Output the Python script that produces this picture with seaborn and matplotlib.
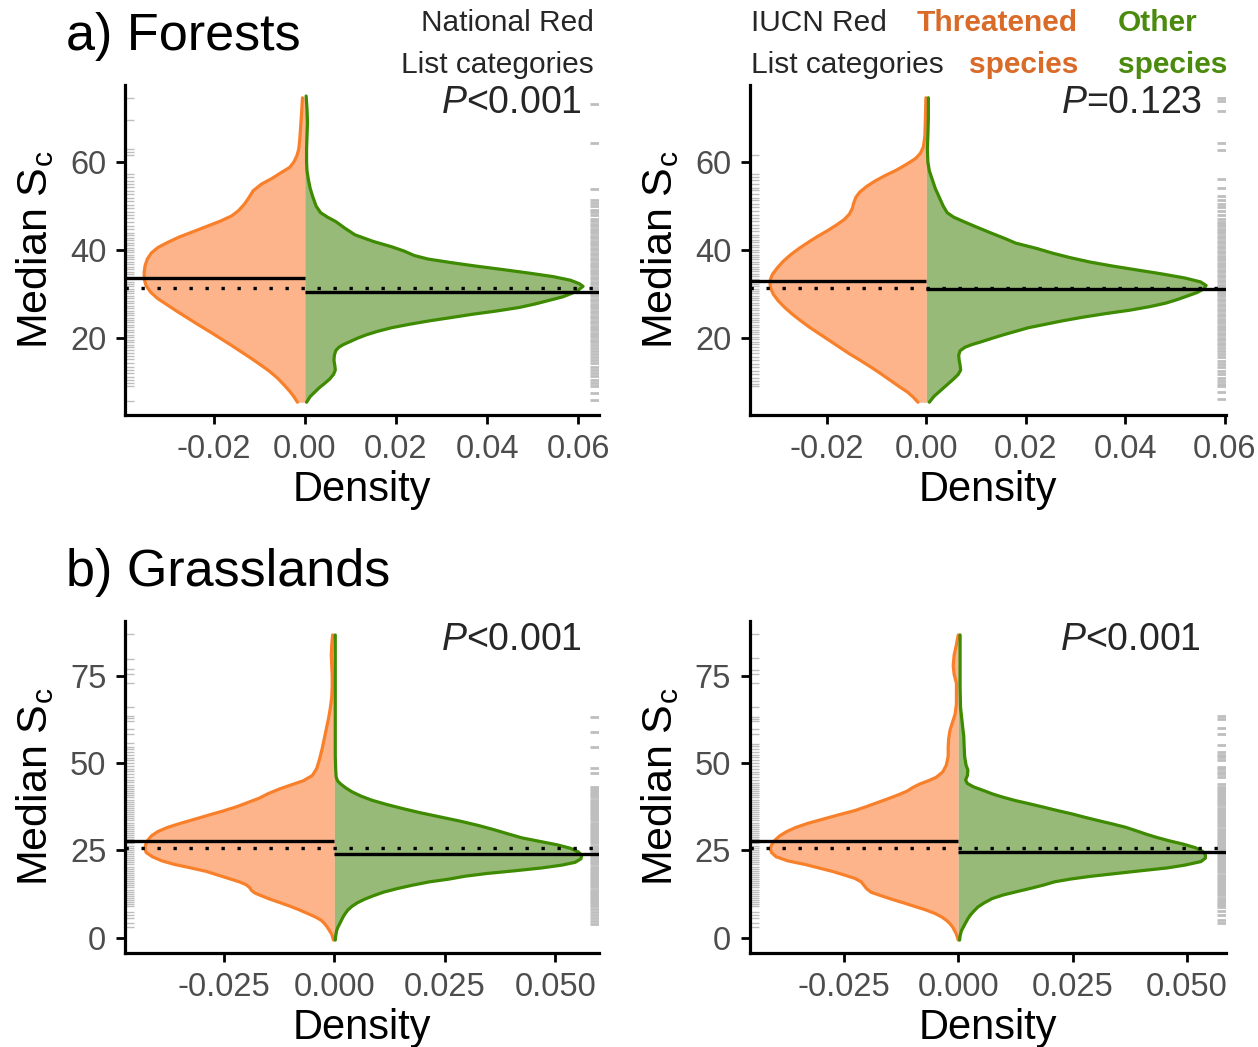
import matplotlib
matplotlib.use("Agg")
import matplotlib.pyplot as plt
import seaborn as sns

# ---- data ----
# density outlines: Sc value (y) and density (x); threatened side stored positive, drawn mirrored

# a) forests, national red list
a1_y_thr = [74.6, 71.0, 68.0, 65.0, 63.0, 61.5, 60.0, 58.8, 57.6, 56.4, 55.0, 53.5, 52.0, 50.5, 49.0,
            47.8, 46.6, 45.4, 44.2, 43.0, 41.8, 40.6, 39.4, 38.0, 36.5, 35.0, 33.5, 32.0, 30.5, 29.0,
            27.5, 26.0, 24.5, 23.0, 21.5, 20.0, 18.5, 17.0, 15.5, 14.0, 12.5, 11.0, 9.5, 8.0, 6.8, 5.5]
a1_d_thr = [0.0005, 0.0007, 0.0009, 0.0011, 0.0013, 0.0017, 0.0024, 0.0033, 0.0052, 0.0070, 0.0095,
            0.0113, 0.0122, 0.0132, 0.0145, 0.0160, 0.0185, 0.0215, 0.0245, 0.0275, 0.0300, 0.0322,
            0.0336, 0.0345, 0.0350, 0.0352, 0.0352, 0.0348, 0.0338, 0.0322, 0.0300, 0.0278, 0.0255,
            0.0232, 0.0208, 0.0185, 0.0162, 0.0140, 0.0118, 0.0097, 0.0077, 0.0060, 0.0046, 0.0033,
            0.0024, 0.0016]
a1_y_oth = [75.0, 72.0, 69.0, 66.0, 63.0, 60.0, 58.0, 56.0, 54.0, 52.0, 50.0, 48.5, 47.5, 46.5, 45.0,
            43.5, 42.0, 40.8, 39.8, 38.8, 38.0, 37.2, 36.4, 35.6, 34.8, 34.0, 33.2, 32.4, 31.8, 31.0,
            30.2, 29.4, 28.6, 27.8, 27.0, 26.2, 25.5, 24.7, 24.0, 23.2, 22.4, 21.6, 20.8, 20.0, 19.2,
            18.6, 18.0, 17.2, 16.2, 15.0, 13.8, 12.8, 11.8, 10.8, 9.8, 8.8, 7.8, 6.8, 5.5]
a1_d_oth = [0.0003, 0.0005, 0.0006, 0.0005, 0.0004, 0.0004, 0.0005, 0.0008, 0.0012, 0.0018, 0.0025,
            0.0035, 0.0050, 0.0068, 0.0088, 0.0110, 0.0150, 0.0190, 0.0218, 0.0240, 0.0270, 0.0320,
            0.0375, 0.0435, 0.0492, 0.0545, 0.0582, 0.0602, 0.0610, 0.0600, 0.0585, 0.0565, 0.0535,
            0.0505, 0.0470, 0.0420, 0.0370, 0.0320, 0.0275, 0.0230, 0.0190, 0.0160, 0.0135, 0.0115,
            0.0098, 0.0085, 0.0075, 0.0068, 0.0065, 0.0064, 0.0066, 0.0067, 0.0063, 0.0055, 0.0044,
            0.0032, 0.0022, 0.0012, 0.0004]

# a) forests, IUCN red list
a2_y_thr = [74.6, 70.0, 66.0, 63.5, 62.0, 60.8, 59.5, 58.2, 57.0, 55.8, 54.5, 53.2, 52.0, 50.8, 49.5,
            48.2, 47.0, 45.8, 44.5, 43.2, 42.0, 40.5, 39.0, 37.5, 36.0, 34.5, 33.0, 31.5, 30.0, 28.5,
            27.0, 25.5, 24.0, 22.5, 21.0, 19.5, 18.0, 16.5, 15.0, 13.5, 12.0, 10.5, 9.0, 7.8, 6.6, 5.5]
a2_d_thr = [0.0001, 0.0002, 0.0003, 0.0006, 0.0012, 0.0022, 0.0040, 0.0060, 0.0082, 0.0102, 0.0120,
            0.0134, 0.0142, 0.0146, 0.0149, 0.0155, 0.0165, 0.0180, 0.0198, 0.0218, 0.0235, 0.0255,
            0.0273, 0.0288, 0.0300, 0.0310, 0.0315, 0.0314, 0.0308, 0.0298, 0.0285, 0.0270, 0.0253,
            0.0235, 0.0215, 0.0195, 0.0175, 0.0155, 0.0133, 0.0112, 0.0092, 0.0073, 0.0054, 0.0038,
            0.0026, 0.0017]
a2_y_oth = [74.6, 70.0, 66.0, 63.0, 60.0, 58.0, 56.0, 54.0, 52.0, 50.0, 48.5, 47.5, 46.5, 45.3, 44.0,
            42.8, 41.6, 40.4, 39.3, 38.3, 37.3, 36.4, 35.5, 34.6, 33.7, 32.8, 32.0, 31.2, 30.4, 29.6,
            28.8, 28.0, 27.2, 26.4, 25.6, 24.8, 24.0, 23.2, 22.4, 21.6, 20.8, 20.0, 19.2, 18.6, 18.0,
            17.2, 16.2, 15.0, 13.8, 12.8, 11.8, 10.8, 9.8, 8.8, 7.8, 6.8, 5.5]
a2_d_oth = [0.0004, 0.0004, 0.0003, 0.0002, 0.0003, 0.0006, 0.0012, 0.0018, 0.0026, 0.0034, 0.0042,
            0.0055, 0.0075, 0.0100, 0.0128, 0.0155, 0.0180, 0.0222, 0.0255, 0.0290, 0.0330, 0.0375,
            0.0425, 0.0475, 0.0520, 0.0552, 0.0563, 0.0558, 0.0545, 0.0525, 0.0505, 0.0482, 0.0450,
            0.0410, 0.0360, 0.0315, 0.0275, 0.0240, 0.0205, 0.0180, 0.0155, 0.0132, 0.0110, 0.0092,
            0.0078, 0.0068, 0.0065, 0.0066, 0.0068, 0.0069, 0.0064, 0.0055, 0.0045, 0.0035, 0.0025,
            0.0015, 0.0006]

# b) grasslands, national red list
b1_y_thr = [86.8, 84.0, 81.0, 78.0, 75.0, 72.0, 69.0, 66.0, 63.0, 60.0, 57.0, 54.0, 51.0, 48.5, 46.5,
            45.0, 43.8, 42.6, 41.3, 40.0, 38.8, 37.6, 36.4, 35.2, 34.0, 32.8, 31.6, 30.4, 29.2, 28.0,
            26.8, 25.6, 24.4, 23.2, 22.0, 21.0, 20.0, 19.0, 18.0, 17.0, 16.0, 15.2, 14.4, 13.6, 12.8,
            12.0, 11.0, 10.0, 9.0, 8.0, 7.0, 6.0, 5.0, 4.0, 3.0, 2.0, 1.0, -0.7]
b1_d_thr = [0.0004, 0.0006, 0.0007, 0.0006, 0.0005, 0.0005, 0.0006, 0.0009, 0.0013, 0.0018, 0.0023,
            0.0028, 0.0034, 0.0040, 0.0050, 0.0070, 0.0098, 0.0125, 0.0150, 0.0170, 0.0195, 0.0220,
            0.0250, 0.0283, 0.0315, 0.0348, 0.0378, 0.0400, 0.0414, 0.0422, 0.0427, 0.0429, 0.0426,
            0.0412, 0.0390, 0.0362, 0.0325, 0.0290, 0.0265, 0.0240, 0.0215, 0.0200, 0.0192, 0.0188,
            0.0180, 0.0165, 0.0145, 0.0122, 0.0100, 0.0080, 0.0062, 0.0044, 0.0030, 0.0022, 0.0016,
            0.0011, 0.0006, 0.0002]
b1_y_oth = [86.8, 80.0, 70.0, 60.0, 52.0, 48.0, 46.1, 45.0, 44.2, 43.0, 41.8, 40.6, 39.4, 38.2, 37.0,
            35.8, 34.6, 33.4, 32.2, 31.0, 29.8, 28.6, 27.6, 26.6, 25.6, 24.6, 23.6, 22.6, 21.6, 20.8,
            20.0, 19.2, 18.4, 17.6, 16.8, 16.0, 15.0, 14.0, 13.0, 12.0, 11.0, 10.0, 9.0, 8.0, 7.0,
            6.0, 5.0, 4.0, 3.0, 2.0, 0.5, -0.7]
b1_d_oth = [0.0002, 0.0002, 0.0002, 0.0002, 0.0002, 0.0003, 0.0004, 0.0007, 0.0013, 0.0025, 0.0040,
            0.0060, 0.0085, 0.0118, 0.0155, 0.0195, 0.0240, 0.0285, 0.0325, 0.0360, 0.0392, 0.0425,
            0.0465, 0.0505, 0.0535, 0.0552, 0.0560, 0.0558, 0.0545, 0.0515, 0.0470, 0.0410, 0.0345,
            0.0295, 0.0260, 0.0215, 0.0175, 0.0140, 0.0110, 0.0088, 0.0068, 0.0052, 0.0040, 0.0031,
            0.0025, 0.0020, 0.0016, 0.0012, 0.0008, 0.0005, 0.0003, 0.0002]

# b) grasslands, IUCN red list
b2_y_thr = [86.8, 84.0, 81.0, 78.0, 75.5, 73.0, 70.0, 67.0, 64.0, 61.6, 59.5, 57.0, 54.5, 52.0, 49.5,
            47.5, 46.0, 45.0, 44.0, 43.0, 42.0, 41.0, 40.0, 38.8, 37.6, 36.4, 35.2, 34.0, 32.8, 31.6,
            30.4, 29.2, 28.0, 26.8, 25.6, 24.4, 23.2, 22.0, 21.0, 20.0, 19.0, 18.0, 17.0, 16.0, 15.0,
            14.0, 13.0, 12.0, 11.0, 10.0, 9.0, 8.0, 7.0, 6.0, 5.0, 4.0, 3.0, 2.0, 1.0, -0.7]
b2_d_thr = [0.0000, 0.0004, 0.0009, 0.0011, 0.0009, 0.0004, 0.0004, 0.0004, 0.0007, 0.0013, 0.0018,
            0.0021, 0.0022, 0.0022, 0.0026, 0.0034, 0.0048, 0.0065, 0.0085, 0.0100, 0.0112, 0.0130,
            0.0150, 0.0175, 0.0200, 0.0227, 0.0262, 0.0295, 0.0328, 0.0355, 0.0375, 0.0390, 0.0400,
            0.0407, 0.0411, 0.0408, 0.0398, 0.0372, 0.0335, 0.0305, 0.0275, 0.0250, 0.0226, 0.0212,
            0.0206, 0.0200, 0.0190, 0.0168, 0.0145, 0.0120, 0.0096, 0.0072, 0.0052, 0.0037, 0.0026,
            0.0018, 0.0012, 0.0008, 0.0004, 0.0000]
b2_y_oth = [86.8, 80.0, 72.0, 66.0, 63.6, 60.0, 57.8, 54.5, 51.9, 49.5, 48.1, 46.5, 45.2, 44.2, 43.2,
            42.2, 41.2, 40.3, 39.3, 38.4, 37.4, 36.4, 35.5, 34.5, 33.5, 32.6, 31.6, 30.6, 29.7, 28.8,
            27.8, 26.8, 25.8, 24.8, 23.8, 22.8, 21.8, 20.8, 20.0, 19.2, 18.4, 17.6, 16.8, 16.0, 15.1,
            14.2, 13.2, 12.2, 11.2, 10.0, 8.8, 7.6, 6.4, 5.4, 4.0, 3.0, 2.0, 0.5, -0.7]
b2_d_oth = [0.0004, 0.0004, 0.0004, 0.0005, 0.0007, 0.0010, 0.0012, 0.0013, 0.0014, 0.0017, 0.0021,
            0.0020, 0.0016, 0.0020, 0.0034, 0.0055, 0.0075, 0.0097, 0.0125, 0.0155, 0.0187, 0.0218,
            0.0248, 0.0277, 0.0308, 0.0337, 0.0367, 0.0390, 0.0410, 0.0432, 0.0460, 0.0492, 0.0518,
            0.0533, 0.0540, 0.0540, 0.0530, 0.0495, 0.0457, 0.0400, 0.0345, 0.0290, 0.0245, 0.0210,
            0.0187, 0.0160, 0.0128, 0.0097, 0.0074, 0.0057, 0.0043, 0.0034, 0.0026, 0.0021, 0.0015,
            0.0011, 0.0007, 0.0004, 0.0003]

# medians: threatened, other, all species
a1_med = [33.7, 30.5, 31.4]
a2_med = [33.1, 31.1, 31.4]
b1_med = [27.7, 24.0, 25.6]
b2_med = [27.7, 24.5, 25.6]

# rug values (left = threatened, right = other)
a1_rug_thr = [74.6, 69.5, 62.9, 62.3, 61.7, 57.4, 56.7, 55.8, 55.1, 54.3, 53.4, 52.8, 51.9, 51.2, 50.3,
              49.6, 48.7, 48.0, 47.3, 46.4, 45.6, 44.9, 44.0, 43.4, 42.8, 42.3, 41.7, 41.1, 40.6, 40.0,
              39.5, 39.0, 38.4, 37.9, 37.3, 36.8, 36.2, 35.7, 35.1, 34.6, 34.0, 33.5, 32.9, 32.4, 31.8,
              31.3, 30.7, 30.2, 29.6, 29.1, 28.5, 28.0, 27.4, 26.9, 26.3, 25.8, 25.2, 24.7, 24.1, 23.6,
              23.0, 22.5, 21.9, 21.4, 20.8, 20.3, 19.7, 19.2, 18.6, 18.1, 17.4, 16.7, 15.9, 15.2, 14.5,
              13.6, 12.9, 12.1, 11.3, 10.6, 9.8, 9.2, 5.7]
a1_rug_oth = [73.1, 64.4, 53.8, 51.5, 50.8, 50.0, 49.2, 48.6, 48.1, 47.1, 46.6, 46.0, 45.5, 44.9, 44.4,
              43.8, 43.3, 42.7, 42.2, 41.6, 41.1, 40.5, 40.0, 39.4, 38.9, 38.3, 37.8, 37.2, 36.7, 36.1,
              35.6, 35.0, 34.5, 33.9, 33.4, 32.8, 32.3, 31.7, 31.2, 30.6, 30.1, 29.5, 29.0, 28.4, 27.9,
              27.3, 26.8, 26.2, 25.7, 25.1, 24.6, 24.0, 23.5, 22.9, 22.4, 21.8, 21.3, 20.7, 20.2, 19.6,
              19.1, 18.5, 17.9, 17.2, 16.5, 15.8, 15.1, 14.3, 13.6, 12.8, 12.1, 11.4, 10.6, 9.9, 9.2,
              7.7, 6.1]
a2_rug_thr = [61.7, 57.4, 56.6, 55.9, 55.1, 54.2, 53.6, 52.7, 51.9, 51.3, 50.4, 49.7, 48.8, 48.1, 47.3,
              46.6, 45.8, 45.0, 44.3, 43.5, 42.9, 42.3, 41.8, 41.2, 40.7, 40.1, 39.6, 39.0, 38.5, 37.9,
              37.4, 36.8, 36.3, 35.7, 35.2, 34.6, 34.1, 33.5, 33.0, 32.4, 31.9, 31.3, 30.8, 30.2, 29.7,
              29.1, 28.6, 28.0, 27.5, 26.9, 26.4, 25.8, 25.3, 24.7, 24.2, 23.6, 23.1, 22.5, 22.0, 21.4,
              20.9, 20.3, 19.8, 19.2, 18.7, 18.1, 17.4, 16.6, 15.8, 15.1, 14.2, 13.5, 12.7, 11.8, 11.1,
              10.3, 9.6, 9.2]
a2_rug_oth = [74.6, 73.8, 71.5, 64.4, 62.8, 56.2, 54.1, 52.2, 51.4, 50.6, 49.8, 49.0, 48.1, 47.1, 46.5,
              46.0, 45.4, 44.9, 44.3, 43.8, 43.2, 42.7, 42.1, 41.6, 41.0, 40.5, 39.9, 39.4, 38.8, 38.3,
              37.7, 37.2, 36.6, 36.1, 35.5, 35.0, 34.4, 33.9, 33.3, 32.8, 32.2, 31.7, 31.1, 30.6, 30.0,
              29.5, 28.9, 28.4, 27.8, 27.3, 26.7, 26.2, 25.6, 25.1, 24.5, 24.0, 23.4, 22.9, 22.3, 21.8,
              21.2, 20.7, 20.1, 19.6, 19.0, 18.6, 17.9, 17.2, 16.4, 15.7, 14.9, 14.2, 13.4, 12.6, 11.9,
              11.1, 10.4, 9.6, 9.2, 7.8, 6.2]
b1_rug_thr = [87.1, 79.9, 76.9, 75.6, 72.9, 66.0, 63.5, 62.9, 62.2, 59.7, 58.4, 55.7, 54.8, 54.1, 53.2,
              52.5, 51.6, 50.9, 50.0, 49.3, 48.4, 47.7, 46.8, 46.1, 45.2, 44.5, 43.8, 43.2, 42.6, 42.0,
              41.4, 40.8, 40.2, 39.6, 39.0, 38.4, 37.8, 37.2, 36.6, 36.0, 35.4, 34.8, 34.2, 33.6, 33.0,
              32.4, 31.8, 31.2, 30.6, 30.0, 29.4, 28.8, 28.2, 27.6, 27.0, 26.4, 25.8, 25.2, 24.6, 24.0,
              23.4, 22.8, 22.2, 21.6, 21.0, 20.4, 19.8, 19.2, 18.6, 18.0, 17.4, 16.8, 16.2, 15.6, 15.0,
              14.4, 13.8, 13.2, 12.6, 12.0, 11.4, 10.8, 10.2, 9.6, 9.0, 7.4, 6.5, 5.6, 4.2, 3.1]
b1_rug_oth = [63.3, 59.1, 54.7, 48.6, 47.1, 43.2, 42.6, 42.0, 41.4, 40.8, 40.2, 39.6, 39.0, 38.4, 37.8,
              37.2, 36.6, 36.0, 35.4, 34.8, 34.2, 33.6, 33.0, 32.4, 31.8, 31.2, 30.6, 30.0, 29.4, 28.8,
              28.2, 27.6, 27.0, 26.4, 25.8, 25.2, 24.6, 24.0, 23.4, 22.8, 22.2, 21.6, 21.0, 20.4, 19.8,
              19.2, 18.6, 18.0, 17.4, 16.8, 16.2, 15.6, 15.0, 14.4, 13.8, 13.2, 12.6, 12.0, 11.4, 10.8,
              10.2, 9.6, 9.0, 8.3, 7.5, 6.6, 5.7, 4.8, 4.0]
b2_rug_thr = [87.1, 80.1, 76.8, 75.5, 72.9, 66.1, 63.4, 62.8, 62.1, 59.8, 58.3, 55.6, 54.9, 54.0, 53.3,
              52.4, 51.7, 50.8, 50.1, 49.2, 48.5, 47.6, 46.9, 46.0, 45.3, 44.4, 43.8, 43.2, 42.6, 42.0,
              41.4, 40.8, 40.2, 39.6, 39.0, 38.4, 37.8, 37.2, 36.6, 36.0, 35.4, 34.8, 34.2, 33.6, 33.0,
              32.4, 31.8, 31.2, 30.6, 30.0, 29.4, 28.8, 28.2, 27.6, 27.0, 26.4, 25.8, 25.2, 24.6, 24.0,
              23.4, 22.8, 22.2, 21.6, 21.0, 20.4, 19.8, 19.2, 18.6, 18.0, 17.4, 16.8, 16.2, 15.6, 15.0,
              14.4, 13.8, 13.2, 12.6, 12.0, 11.4, 10.8, 10.2, 9.6, 9.0, 7.3, 6.4, 5.5, 4.1, 3.0]
b2_rug_oth = [63.5, 62.6, 60.0, 58.4, 55.2, 53.3, 52.5, 51.7, 50.9, 49.0, 48.3, 47.5, 46.8, 46.1, 44.2,
              43.3, 42.7, 42.1, 41.5, 40.9, 40.3, 39.7, 39.1, 38.5, 37.9, 37.3, 36.7, 36.1, 35.5, 34.9,
              34.3, 33.7, 33.1, 32.5, 31.9, 31.3, 30.7, 30.1, 29.5, 28.9, 28.3, 27.7, 27.1, 26.5, 25.9,
              25.3, 24.7, 24.1, 23.5, 22.9, 22.3, 21.7, 21.1, 20.5, 19.9, 19.3, 18.7, 18.1, 17.5, 16.9,
              16.3, 15.7, 15.1, 14.5, 13.9, 13.3, 12.7, 12.1, 11.5, 10.9, 10.3, 9.7, 9.3, 8.9, 7.7,
              6.5, 5.2, 4.1]

# ticks and annotations
a_xticks = [-0.02, 0.0, 0.02, 0.04, 0.06]
a_xlabels = ["-0.02", "0.00", "0.02", "0.04", "0.06"]
a_yticks = [20, 40, 60]
b_xticks = [-0.025, 0.0, 0.025, 0.05]
b_xlabels = ["-0.025", "0.000", "0.025", "0.050"]
b_yticks = [0, 25, 50, 75]
p_values = [r"$\it{P}$<0.001", r"$\it{P}$=0.123", r"$\it{P}$<0.001", r"$\it{P}$<0.001"]

# colours
FILL_THR = "#FDB48A"
LINE_THR = "#F8802B"
FILL_OTH = "#98BA78"
LINE_OTH = "#3E8A00"
RUG_COL = "#BEBEBE"
TXT_THR = "#D96A28"
TXT_OTH = "#4A8A0C"

sns.set_theme(style="ticks")
plt.rcParams["font.family"] = ["Liberation Sans", "DejaVu Sans"]
plt.rcParams["mathtext.fontset"] = "custom"
plt.rcParams["mathtext.rm"] = "Liberation Sans"
plt.rcParams["mathtext.it"] = "Liberation Sans:italic"
plt.rcParams["mathtext.bf"] = "Liberation Sans:bold"

W, H = 1258, 1047
fig = plt.figure(figsize=(W / 100, H / 100), dpi=100)


def box(left, top, right, bottom):
    return [left / W, 1 - bottom / H, (right - left) / W, (bottom - top) / H]


def ftext(x, y, s, **kw):
    fig.text(x / W, 1 - y / H, s, **kw)


def draw_panel(ax, y_thr, d_thr, y_oth, d_oth, med, rug_thr, rug_oth,
               xlim, ylim, xticks, xlabels, yticks):
    neg = [-v for v in d_thr]
    ax.fill_betweenx(y_thr, neg, 0, color=FILL_THR, lw=0, zorder=1)
    ax.fill_betweenx(y_oth, 0, d_oth, color=FILL_OTH, lw=0, zorder=1)
    sns.lineplot(x=neg, y=y_thr, orient="y", sort=False, estimator=None,
                 color=LINE_THR, lw=2.3, ax=ax, zorder=3)
    sns.lineplot(x=d_oth, y=y_oth, orient="y", sort=False, estimator=None,
                 color=LINE_OTH, lw=2.3, ax=ax, zorder=3)

    # medians
    ax.plot([xlim[0], 0], [med[0], med[0]], color="black", lw=2.4,
            solid_capstyle="butt", zorder=4)
    ax.plot([0, xlim[1]], [med[1], med[1]], color="black", lw=2.4,
            solid_capstyle="butt", zorder=4)
    ax.axhline(med[2], color="black", lw=2.4, ls=(0, (1, 3.8)), zorder=4)

    # rugs
    sns.rugplot(y=rug_thr, height=0.018, color=RUG_COL, lw=2.0, ax=ax,
                expand_margins=False, zorder=2)
    ax.hlines(rug_oth, 0.982, 1.0, transform=ax.get_yaxis_transform(),
              color=RUG_COL, lw=2.0, zorder=2)

    ax.set_xlim(xlim)
    ax.set_ylim(ylim)
    ax.set_xticks(xticks)
    ax.set_xticklabels(xlabels)
    ax.set_yticks(yticks)
    for s in ["top", "right"]:
        ax.spines[s].set_visible(False)
    for s in ["left", "bottom"]:
        ax.spines[s].set_linewidth(2.3)
        ax.spines[s].set_color("black")
    ax.tick_params(direction="out", length=6.5, width=2.0, color="black",
                   labelsize=23.5, labelcolor="#4D4D4D")
    ax.tick_params(axis="x", pad=7)
    ax.tick_params(axis="y", pad=7)
    ax.set_xlabel("Density", fontsize=30, color="black", labelpad=4)
    ax.set_ylabel(r"Median S$_\mathregular{c}$", fontsize=31, color="black", labelpad=10)


ax1 = fig.add_axes(box(125, 85, 599, 415))
ax2 = fig.add_axes(box(750, 85, 1226, 415))
ax3 = fig.add_axes(box(125, 621, 599, 953))
ax4 = fig.add_axes(box(750, 621, 1226, 953))

draw_panel(ax1, a1_y_thr, a1_d_thr, a1_y_oth, a1_d_oth, a1_med, a1_rug_thr, a1_rug_oth,
           (-0.0394, 0.0645), (2.6, 77.5), a_xticks, a_xlabels, a_yticks)
draw_panel(ax2, a2_y_thr, a2_d_thr, a2_y_oth, a2_d_oth, a2_med, a2_rug_thr, a2_rug_oth,
           (-0.0355, 0.0603), (2.6, 77.5), a_xticks, a_xlabels, a_yticks)
draw_panel(ax3, b1_y_thr, b1_d_thr, b1_y_oth, b1_d_oth, b1_med, b1_rug_thr, b1_rug_oth,
           (-0.0474, 0.0599), (-4.4, 90.8), b_xticks, b_xlabels, b_yticks)
draw_panel(ax4, b2_y_thr, b2_d_thr, b2_y_oth, b2_d_oth, b2_med, b2_rug_thr, b2_rug_oth,
           (-0.0455, 0.0585), (-4.4, 90.8), b_xticks, b_xlabels, b_yticks)

# panel titles
ftext(66, 50, "a) Forests", fontsize=37.5, color="black", ha="left", va="baseline")
ftext(66, 586, "b) Grasslands", fontsize=37.5, color="black", ha="left", va="baseline")

# column headers
ftext(594, 31, "National Red", fontsize=21.5, ha="right", va="baseline")
ftext(594, 73, "List categories", fontsize=21.5, ha="right", va="baseline")
ftext(751, 31, "IUCN Red", fontsize=21.5, ha="left", va="baseline")
ftext(751, 73, "List categories", fontsize=21.5, ha="left", va="baseline")
ftext(1078, 31, "Threatened", fontsize=21.5, fontweight="bold", color=TXT_THR,
      ha="right", va="baseline")
ftext(1078, 73, "species", fontsize=21.5, fontweight="bold", color=TXT_THR,
      ha="right", va="baseline")
ftext(1118, 31, "Other", fontsize=21.5, fontweight="bold", color=TXT_OTH,
      ha="left", va="baseline")
ftext(1118, 73, "species", fontsize=21.5, fontweight="bold", color=TXT_OTH,
      ha="left", va="baseline")

# P values
ftext(582, 113, p_values[0], fontsize=27, ha="right", va="baseline")
ftext(1202, 113, p_values[1], fontsize=27, ha="right", va="baseline")
ftext(582, 650, p_values[2], fontsize=27, ha="right", va="baseline")
ftext(1201, 650, p_values[3], fontsize=27, ha="right", va="baseline")

fig.savefig("out.png", dpi=100)
